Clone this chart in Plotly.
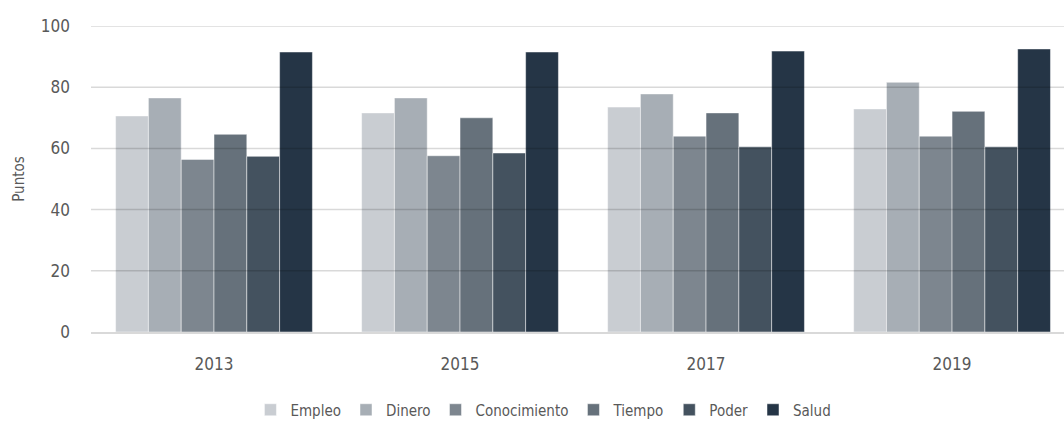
import plotly.graph_objects as go

# Survey scores by year and dimension
years = ["2013", "2015", "2017", "2019"]
series_names = ["Empleo", "Dinero", "Conocimiento", "Tiempo", "Poder", "Salud"]
empleo = [70.6, 71.6, 73.5, 72.9]
dinero = [76.5, 76.5, 77.8, 81.6]
conocimiento = [56.4, 57.6, 64.0, 64.0]
tiempo = [64.6, 70.0, 71.6, 72.1]
poder = [57.4, 58.5, 60.5, 60.5]
salud = [91.5, 91.5, 91.8, 92.5]
y_ticks = [0, 20, 40, 60, 80, 100]

values = [empleo, dinero, conocimiento, tiempo, poder, salud]
colors = ["#C9CDD2", "#A7AEB5", "#7D868F", "#66717B", "#44525F", "#253546"]

FONT = "DejaVu Sans Condensed, DejaVu Sans, sans-serif"
TEXT = "#595959"

fig = go.Figure()
for name, vals, col in zip(series_names, values, colors):
    fig.add_trace(go.Bar(
        name=name, x=years, y=vals,
        marker=dict(color=col, line=dict(color="rgba(255,255,255,0.6)", width=0.8)),
    ))

# grid lines drawn over the bars as a translucent overlay
for v in y_ticks[1:]:
    fig.add_shape(type="line", xref="paper", yref="y", x0=0, x1=1, y0=v, y1=v,
                  line=dict(color="rgba(0,0,0,0.15)", width=1.5), layer="above")

fig.update_layout(
    width=1064, height=424,
    margin=dict(l=91, r=0, t=26, b=92, autoexpand=False),
    paper_bgcolor="white", plot_bgcolor="white",
    barmode="group", bargap=0.2, bargroupgap=0,
    font=dict(family=FONT, color=TEXT, size=17),
    showlegend=True,
    legend=dict(orientation="h", x=0.465, xanchor="center",
                yref="container", y=0.033, yanchor="middle",
                font=dict(family=FONT, size=15, color=TEXT),
                itemwidth=30, tracegroupgap=0, traceorder="normal"),
    xaxis=dict(
        type="category", range=[-0.5, 3.455], automargin=False,
        showgrid=False, showline=True, linecolor="#D9D9D9", linewidth=1.5,
        ticks="", ticklabelstandoff=16,
        tickfont=dict(family=FONT, size=17, color=TEXT),
    ),
    yaxis=dict(
        range=[0, 100], tickvals=y_ticks, showgrid=False, zeroline=False,
        showline=False, ticks="", ticklabelstandoff=20, automargin=False,
        tickfont=dict(family=FONT, size=17, color=TEXT),
        title=dict(text="Puntos", font=dict(family=FONT, size=15, color=TEXT), standoff=12),
    ),
)

fig.write_html("out.html")
